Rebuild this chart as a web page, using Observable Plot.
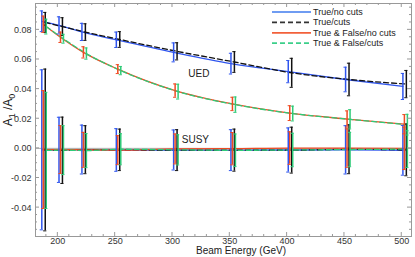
<!DOCTYPE html>
<html><head><meta charset="utf-8">
<script src="https://cdn.jsdelivr.net/npm/d3@7"></script>
<script src="https://cdn.jsdelivr.net/npm/@observablehq/plot@0.6"></script>
<style>body{margin:0;background:#fff;} #chart{width:415px;height:257px;}</style>
</head><body><div id="chart"></div>
<script>
// ---- data ----
const energies = [186, 201, 221, 251, 301, 351, 401, 451, 501];

const uedTrueNoCuts    = [0.0858, 0.0830, 0.0786, 0.0733, 0.0648, 0.0572, 0.0518, 0.0465, 0.0418];
const uedTrueNoCutsErr = [0.0070, 0.0058, 0.0058, 0.0052, 0.0064, 0.0070, 0.0075, 0.0083, 0.0088];
const uedTrueCuts      = [0.0850, 0.0822, 0.0785, 0.0735, 0.0655, 0.0583, 0.0510, 0.0465, 0.0434];
const uedTrueCutsErr   = [0.0068, 0.0060, 0.0056, 0.0053, 0.0058, 0.0070, 0.0098, 0.0110, 0.0092];
const uedTFNoCuts      = [0.0838, 0.0750, 0.0648, 0.0535, 0.0390, 0.0300, 0.0238, 0.0198, 0.0163];
const uedTFNoCutsErr   = [0.0055, 0.0035, 0.0038, 0.0030, 0.0045, 0.0045, 0.0050, 0.0055, 0.0065];
const uedTFCuts        = [0.0822, 0.0740, 0.0640, 0.0525, 0.0383, 0.0295, 0.0235, 0.0196, 0.0160];
const uedTFCutsErr     = [0.0050, 0.0030, 0.0038, 0.0028, 0.0050, 0.0052, 0.0050, 0.0065, 0.0070];

const susyTrueNoCuts    = [-0.0010, -0.0010, -0.0008, -0.0011, -0.0011, -0.0012, -0.0011, -0.0010, -0.0013];
const susyTrueNoCutsErr = [0.0540, 0.0220, 0.0165, 0.0144, 0.0135, 0.0138, 0.0149, 0.0163, 0.0168];
const susyTrueCuts      = [-0.0011, -0.0013, -0.0009, -0.0010, -0.0012, -0.0012, -0.0012, -0.0006, -0.0010];
const susyTrueCutsErr   = [0.0546, 0.0224, 0.0162, 0.0140, 0.0138, 0.0142, 0.0155, 0.0165, 0.0175];
const susyTFNoCuts      = [-0.0008, -0.0008, -0.0010, -0.0012, -0.0004, -0.0002, 0.0002, 0.0002, 0.0000];
const susyTFNoCutsErr   = [0.0398, 0.0162, 0.0118, 0.0098, 0.0101, 0.0109, 0.0110, 0.0130, 0.0143];
const susyTFCuts        = [-0.0014, -0.0012, -0.0015, -0.0006, -0.0010, -0.0013, -0.0011, -0.0008, -0.0005];
const susyTFCutsErr     = [0.0392, 0.0165, 0.0115, 0.0105, 0.0102, 0.0110, 0.0113, 0.0116, 0.0124];

const seriesNames = ["True/no cuts", "True/cuts", "True & False/no cuts", "True & False/cuts"];
const modelLabels = ["UED", "SUSY"];
const modelLabelE = [323, 320];
const modelLabelV = [0.0505, 0.0060];
const xTicks = [200, 250, 300, 350, 400, 450, 500];
const yTicks = [-0.04, -0.02, 0.00, 0.02, 0.04, 0.06, 0.08];

// ---- styling per series ----
const series = [
  {name: seriesNames[0], ued: uedTrueNoCuts, uedErr: uedTrueNoCutsErr, susy: susyTrueNoCuts, susyErr: susyTrueNoCutsErr, color: "#2f55ee", dash: null, dx: 0},
  {name: seriesNames[1], ued: uedTrueCuts, uedErr: uedTrueCutsErr, susy: susyTrueCuts, susyErr: susyTrueCutsErr, color: "#111111", dash: "5,3", dx: 3.0},
  {name: seriesNames[2], ued: uedTFNoCuts, uedErr: uedTFNoCutsErr, susy: susyTFNoCuts, susyErr: susyTFNoCutsErr, color: "#f04a22", dash: null, dx: 1.3},
  {name: seriesNames[3], ued: uedTFCuts, uedErr: uedTFCutsErr, susy: susyTFCuts, susyErr: susyTFCutsErr, color: "#2ecb78", dash: "5,3", dx: 3.9}
];
const legendColors = ["#6f9cf2", "#333333", "#f2603a", "#3ccf8a"];

const rows = [];
series.forEach((s, si) => {
  energies.forEach((e, i) => {
    rows.push({si, model: "UED", E: e + s.dx, v: s.ued[i], err: s.uedErr[i]});
    rows.push({si, model: "SUSY", E: e + s.dx, v: s.susy[i], err: s.susyErr[i]});
  });
});

const capHalf = 1.4;
const marks = [Plot.ruleY([0], {stroke: "#aaaaaa", strokeWidth: 1})];
series.forEach((s, si) => {
  const d = rows.filter(r => r.si === si);
  marks.push(Plot.line(d, {x: "E", y: "v", z: "model", stroke: s.color, strokeWidth: 1.3,
    strokeDasharray: s.dash, curve: "monotone-x"}));
});
series.forEach((s, si) => {
  const d = rows.filter(r => r.si === si);
  marks.push(Plot.ruleX(d, {x: "E", y1: r => r.v - r.err, y2: r => r.v + r.err, stroke: s.color, strokeWidth: 1.5}));
  marks.push(Plot.ruleY(d, {y: r => r.v + r.err, x1: r => r.E - capHalf, x2: r => r.E + capHalf, stroke: s.color, strokeWidth: 1}));
  marks.push(Plot.ruleY(d, {y: r => r.v - r.err, x1: r => r.E - capHalf, x2: r => r.E + capHalf, stroke: s.color, strokeWidth: 1}));
});
marks.push(Plot.text(modelLabels, {x: (d, i) => modelLabelE[i], y: (d, i) => modelLabelV[i], text: d => d,
  fontSize: 10, fill: "#222"}));
marks.push(Plot.frame({stroke: "#999999"}));
marks.push(Plot.axisX({ticks: xTicks, tickSize: 0, tickPadding: 1, fontSize: 9, label: null, fill: "#333"}));
marks.push(Plot.axisY({ticks: yTicks, tickSize: 0, tickPadding: 4, fontSize: 9, label: null, fill: "#333",
  tickFormat: d => d.toFixed(2)}));

const chart = Plot.plot({
  width: 415, height: 257,
  marginLeft: 35, marginRight: 4, marginTop: 3, marginBottom: 21,
  x: {domain: [180.5, 508.5]},
  y: {domain: [-0.0595, 0.0978]},
  style: {fontFamily: "'Liberation Sans', Arial, sans-serif", background: "#fff", overflow: "visible"},
  marks
});
document.getElementById("chart").appendChild(chart);

// ---- inward ticks on all sides (Mathematica frame style), via the plot's scales ----
const sx = chart.scale("x"), sy = chart.scale("y");
const [xl, xr] = sx.range, [yb, yt] = sy.range;
const svg = d3.select(chart);
const g = svg.append("g").attr("stroke", "#999").attr("stroke-width", 1);
const xMinor = d3.range(190, 509, 10).filter(v => !xTicks.includes(v));
const yMinor = d3.range(-55, 96, 5).map(v => v / 1000).filter(v => !yTicks.some(t => Math.abs(t - v) < 1e-9));
function xt(v, len) {
  const px = sx.apply(v);
  g.append("line").attr("x1", px).attr("x2", px).attr("y1", yb).attr("y2", yb - len);
  g.append("line").attr("x1", px).attr("x2", px).attr("y1", yt).attr("y2", yt + len);
}
function yt_(v, len) {
  const py = sy.apply(v);
  g.append("line").attr("x1", xl).attr("x2", xl + len).attr("y1", py).attr("y2", py);
  g.append("line").attr("x1", xr).attr("x2", xr - len).attr("y1", py).attr("y2", py);
}
xTicks.forEach(v => xt(v, 4)); xMinor.forEach(v => xt(v, 2));
yTicks.forEach(v => yt_(v, 4)); yMinor.forEach(v => yt_(v, 2));

// ---- axis titles ----
svg.append("text").attr("x", (xl + xr) / 2 + 18).attr("y", 254).attr("text-anchor", "middle")
  .attr("font-size", 10).attr("fill", "#222").text("Beam Energy (GeV)");
const yl = svg.append("text").attr("transform", "translate(12,110) rotate(-90)").attr("text-anchor", "middle")
  .attr("font-size", 12).attr("fill", "#222");
yl.append("tspan").text("A");
yl.append("tspan").attr("font-size", 9).attr("dy", 3).text("1");
yl.append("tspan").attr("dy", -3).text(" /A");
yl.append("tspan").attr("font-size", 9).attr("dy", 3).text("0");

// ---- legend ----
const lg = svg.append("g");
series.forEach((s, i) => {
  const y = 12 + i * 10.4;
  lg.append("line").attr("x1", 272).attr("x2", 311).attr("y1", y).attr("y2", y)
    .attr("stroke", legendColors[i]).attr("stroke-width", 1.8).attr("stroke-dasharray", s.dash);
  lg.append("text").attr("x", 313).attr("y", y).attr("dy", "0.33em").attr("font-size", 9)
    .attr("text-anchor", "start").attr("fill", "#222").text(s.name);
});
</script></body></html>
